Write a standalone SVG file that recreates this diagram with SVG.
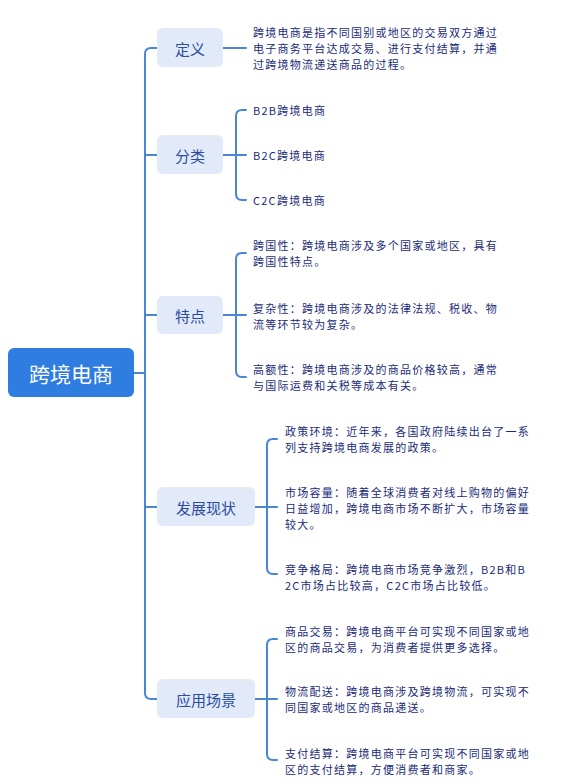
<svg xmlns="http://www.w3.org/2000/svg" width="588" height="784" viewBox="0 0 588 784">
<style>
.bg{fill:#ffffff}
.root{fill:#2F7DE1}
.rt{fill:#ffffff;font-family:"Noto Sans CJK SC","Noto Sans",sans-serif;font-size:21px;text-anchor:middle;dominant-baseline:central}
.n1{fill:#E2EAFA}
.t1{fill:#2A4DA0;font-family:"Noto Sans CJK SC","Noto Sans",sans-serif;font-size:15px;text-anchor:middle;dominant-baseline:central}
.t2{fill:#1B2B78;font-family:"Noto Sans CJK SC","Noto Sans",sans-serif;font-size:11px;letter-spacing:1.25px;dominant-baseline:central}
.ln{fill:none;stroke:#4A86D6;stroke-width:2;stroke-linecap:round}
</style>
<rect class="bg" x="0" y="0" width="588" height="784"/>
<g id="connectors">
<path class="ln" d="M134,373 H145"/>
<path class="ln" d="M157,48 H151 Q145,48 145,54 V693 Q145,699 151,699 H157"/>
<path class="ln" d="M145,155 H157 M145,315 H157 M145,507 H157"/>
<path class="ln" d="M223,48 H246"/>
<path class="ln" d="M223,155 H236 M246,110 H242 Q236,110 236,116 V194 Q236,200 242,200 H246 M236,155 H246"/>
<path class="ln" d="M223,315 H236 M246,253 H242 Q236,253 236,259 V371 Q236,377 242,377 H246 M236,315 H246"/>
<path class="ln" d="M255,507 H267 M277,439 H273 Q267,439 267,445 V568 Q267,574 273,574 H277 M267,507 H277"/>
<path class="ln" d="M255,699 H267 M277,639 H273 Q267,639 267,645 V754 Q267,760 273,760 H277 M267,699 H277"/>
</g>
<g id="root">
<rect class="root" x="8" y="348" width="126" height="49" rx="6"/>
<text class="rt" x="71" y="373">跨境电商</text>
</g>
<g id="n-def">
<rect class="n1" x="157" y="28" width="66" height="39" rx="6"/>
<text class="t1" x="190" y="48">定义</text>
</g>
<g id="n-cat">
<rect class="n1" x="157" y="135" width="66" height="39" rx="6"/>
<text class="t1" x="190" y="155">分类</text>
</g>
<g id="n-feat">
<rect class="n1" x="157" y="296" width="66" height="38" rx="6"/>
<text class="t1" x="190" y="315">特点</text>
</g>
<g id="n-dev">
<rect class="n1" x="157" y="487" width="98" height="39" rx="6"/>
<text class="t1" x="206" y="507">发展现状</text>
</g>
<g id="n-app">
<rect class="n1" x="157" y="679" width="98" height="39" rx="6"/>
<text class="t1" x="206" y="699">应用场景</text>
</g>
<g id="def-text">
<text class="t2"><tspan x="253" y="32">跨境电商是指不同国别或地区的交易双方通过</tspan><tspan x="253" y="48">电子商务平台达成交易、进行支付结算，并通</tspan><tspan x="253" y="64">过跨境物流递送商品的过程。</tspan></text>
</g>
<g id="cat-b2b"><text class="t2" x="253" y="110">B2B跨境电商</text></g>
<g id="cat-b2c"><text class="t2" x="253" y="155">B2C跨境电商</text></g>
<g id="cat-c2c"><text class="t2" x="253" y="200">C2C跨境电商</text></g>
<g id="feat-1">
<text class="t2"><tspan x="253" y="245">跨国性：跨境电商涉及多个国家或地区，具有</tspan><tspan x="253" y="261">跨国性特点。</tspan></text>
</g>
<g id="feat-2">
<text class="t2"><tspan x="253" y="308">复杂性：跨境电商涉及的法律法规、税收、物</tspan><tspan x="253" y="324">流等环节较为复杂。</tspan></text>
</g>
<g id="feat-3">
<text class="t2"><tspan x="253" y="369">高额性：跨境电商涉及的商品价格较高，通常</tspan><tspan x="253" y="385">与国际运费和关税等成本有关。</tspan></text>
</g>
<g id="dev-1">
<text class="t2"><tspan x="285" y="431">政策环境：近年来，各国政府陆续出台了一系</tspan><tspan x="285" y="447">列支持跨境电商发展的政策。</tspan></text>
</g>
<g id="dev-2">
<text class="t2"><tspan x="285" y="492">市场容量：随着全球消费者对线上购物的偏好</tspan><tspan x="285" y="508">日益增加，跨境电商市场不断扩大，市场容量</tspan><tspan x="285" y="524">较大。</tspan></text>
</g>
<g id="dev-3">
<text class="t2"><tspan x="285" y="569">竞争格局：跨境电商市场竞争激烈，B2B和B</tspan><tspan x="285" y="585">2C市场占比较高，C2C市场占比较低。</tspan></text>
</g>
<g id="app-1">
<text class="t2"><tspan x="285" y="631">商品交易：跨境电商平台可实现不同国家或地</tspan><tspan x="285" y="647">区的商品交易，为消费者提供更多选择。</tspan></text>
</g>
<g id="app-2">
<text class="t2"><tspan x="285" y="691">物流配送：跨境电商涉及跨境物流，可实现不</tspan><tspan x="285" y="707">同国家或地区的商品递送。</tspan></text>
</g>
<g id="app-3">
<text class="t2"><tspan x="285" y="753">支付结算：跨境电商平台可实现不同国家或地</tspan><tspan x="285" y="769">区的支付结算，方便消费者和商家。</tspan></text>
</g>
</svg>
